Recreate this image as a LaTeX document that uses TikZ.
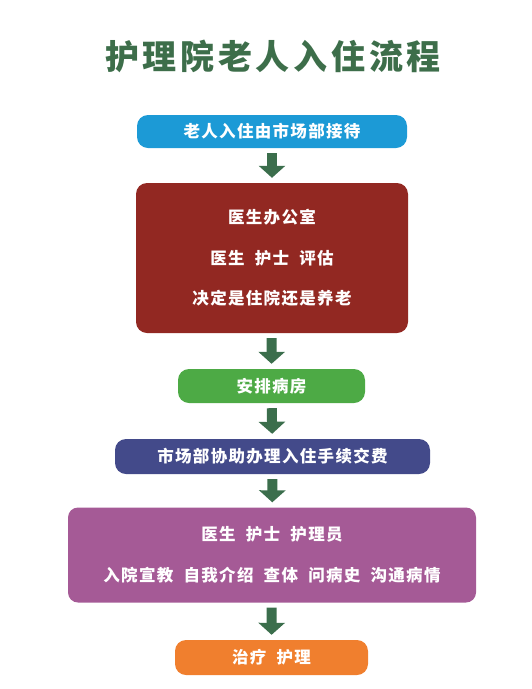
\documentclass[tikz,border=0pt]{standalone}
\usepackage{fontspec}
\usetikzlibrary{arrows.meta}
\newfontfamily\cjk{Noto Sans CJK SC}[LetterSpace=8]
\newfontfamily\cjktitle{Noto Sans CJK SC}[LetterSpace=11]
\definecolor{titlegreen}{HTML}{3D6E4A}
\definecolor{arrowgreen}{HTML}{3B6E4C}
\definecolor{stepblue}{HTML}{1C9AD6}
\definecolor{stepred}{HTML}{922822}
\definecolor{stepgreen}{HTML}{4DAA45}
\definecolor{stepnavy}{HTML}{434A8A}
\definecolor{steppurple}{HTML}{A55A96}
\definecolor{steporange}{HTML}{F07F2E}
\begin{document}
\begin{tikzpicture}[
    x=1pt, y=-1pt,
    box/.style={rectangle, rounded corners=11pt, inner sep=0pt, align=center, text=white,
        font=\cjk\bfseries\fontsize{16.5}{40.5}\selectfont},
    arrow/.style={line width=10pt, draw=arrowgreen, shorten <=5pt, shorten >=5pt,
        -{Triangle[width=26pt, length=12pt]}}
]
    \useasboundingbox (0,0) rectangle (531,689);
    \node[text=titlegreen, font=\cjktitle\bfseries\fontsize{34}{34}\selectfont] (title) at (273,56) {护理院老人入住流程};

    \node[box, fill=stepblue,   minimum width=270pt, minimum height=33pt] (reception) at (272,131.5) {老人入住由市场部接待};
    \node[box, fill=stepred,    minimum width=272pt, minimum height=150pt] (office)   at (272,258)   {医生办公室\\医生\ \ 护士\ \ 评估\\决定是住院还是养老};
    \node[box, fill=stepgreen,  minimum width=187pt, minimum height=34pt] (ward)      at (271.5,386) {安排病房};
    \node[box, fill=stepnavy,   minimum width=315pt, minimum height=35pt] (checkin)   at (272.5,456.5) {市场部协助办理入住手续交费};
    \node[box, fill=steppurple, minimum width=408pt, minimum height=95pt, rounded corners=10pt] (intro) at (272,555) {医生\ \ 护士\ \ 护理员\\入院宣教\ \ 自我介绍\ \ 查体\ \ 问病史\ \ 沟通病情};
    \node[box, fill=steporange, minimum width=193pt, minimum height=35pt] (care)      at (271.5,657.5) {治疗\ \ 护理};

    \draw[arrow] (reception) -- (office);
    \draw[arrow] (office)    -- (ward);
    \draw[arrow] (ward)      -- (checkin);
    \draw[arrow] (checkin)   -- (intro);
    \draw[arrow] (intro)     -- (care);
\end{tikzpicture}
\end{document}
